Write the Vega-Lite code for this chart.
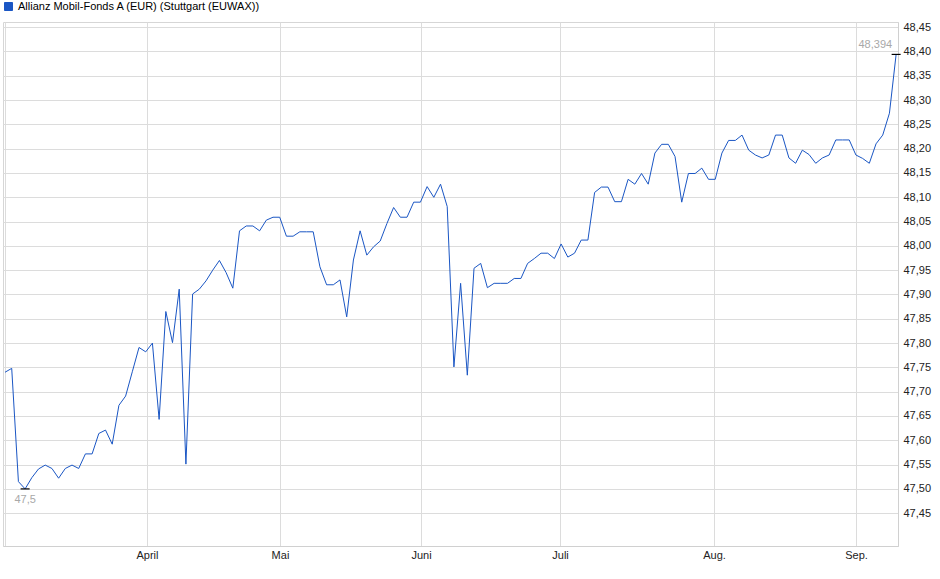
{
  "$schema": "https://vega.github.io/schema/vega-lite/v6.json",
  "autosize": "none",
  "width": 895,
  "height": 524,
  "padding": {"left": 3, "top": 22, "right": 42, "bottom": 33},
  "background": "white",
  "config": {
    "font": "Liberation Sans",
    "view": {"stroke": "#d6d6d6", "strokeWidth": 1},
    "axis": {
      "grid": true,
      "gridColor": "#dcdcdc",
      "gridWidth": 1,
      "domainColor": "#d0d0d0",
      "ticks": false,
      "labelFont": "Liberation Sans",
      "labelFontSize": 11,
      "labelColor": "#222222",
      "title": null
    }
  },
  "datasets": {
    "kurse": [
      {"tag": 0, "kurs": 47.740}, {"tag": 1, "kurs": 47.748}, {"tag": 2, "kurs": 47.515}, {"tag": 3, "kurs": 47.500},
      {"tag": 4, "kurs": 47.523}, {"tag": 5, "kurs": 47.541}, {"tag": 6, "kurs": 47.549}, {"tag": 7, "kurs": 47.542},
      {"tag": 8, "kurs": 47.522}, {"tag": 9, "kurs": 47.542}, {"tag": 10, "kurs": 47.549}, {"tag": 11, "kurs": 47.542},
      {"tag": 12, "kurs": 47.572}, {"tag": 13, "kurs": 47.572}, {"tag": 14, "kurs": 47.614}, {"tag": 15, "kurs": 47.621},
      {"tag": 16, "kurs": 47.592}, {"tag": 17, "kurs": 47.672}, {"tag": 18, "kurs": 47.691}, {"tag": 19, "kurs": 47.741},
      {"tag": 20, "kurs": 47.791}, {"tag": 21, "kurs": 47.782}, {"tag": 22, "kurs": 47.800}, {"tag": 23, "kurs": 47.643},
      {"tag": 24, "kurs": 47.865}, {"tag": 25, "kurs": 47.801}, {"tag": 26, "kurs": 47.911}, {"tag": 27, "kurs": 47.551},
      {"tag": 28, "kurs": 47.901}, {"tag": 29, "kurs": 47.911}, {"tag": 30, "kurs": 47.928}, {"tag": 31, "kurs": 47.950},
      {"tag": 32, "kurs": 47.970}, {"tag": 33, "kurs": 47.945}, {"tag": 34, "kurs": 47.913}, {"tag": 35, "kurs": 48.031},
      {"tag": 36, "kurs": 48.041}, {"tag": 37, "kurs": 48.041}, {"tag": 38, "kurs": 48.031}, {"tag": 39, "kurs": 48.053},
      {"tag": 40, "kurs": 48.059}, {"tag": 41, "kurs": 48.059}, {"tag": 42, "kurs": 48.020}, {"tag": 43, "kurs": 48.020},
      {"tag": 44, "kurs": 48.029}, {"tag": 45, "kurs": 48.029}, {"tag": 46, "kurs": 48.029}, {"tag": 47, "kurs": 47.957},
      {"tag": 48, "kurs": 47.920}, {"tag": 49, "kurs": 47.920}, {"tag": 50, "kurs": 47.930}, {"tag": 51, "kurs": 47.854},
      {"tag": 52, "kurs": 47.971}, {"tag": 53, "kurs": 48.031}, {"tag": 54, "kurs": 47.981}, {"tag": 55, "kurs": 47.998},
      {"tag": 56, "kurs": 48.010}, {"tag": 57, "kurs": 48.046}, {"tag": 58, "kurs": 48.079}, {"tag": 59, "kurs": 48.059},
      {"tag": 60, "kurs": 48.059}, {"tag": 61, "kurs": 48.090}, {"tag": 62, "kurs": 48.090}, {"tag": 63, "kurs": 48.122},
      {"tag": 64, "kurs": 48.100}, {"tag": 65, "kurs": 48.127}, {"tag": 66, "kurs": 48.081}, {"tag": 67, "kurs": 47.751},
      {"tag": 68, "kurs": 47.923}, {"tag": 69, "kurs": 47.734}, {"tag": 70, "kurs": 47.954}, {"tag": 71, "kurs": 47.964},
      {"tag": 72, "kurs": 47.914}, {"tag": 73, "kurs": 47.923}, {"tag": 74, "kurs": 47.923}, {"tag": 75, "kurs": 47.923},
      {"tag": 76, "kurs": 47.933}, {"tag": 77, "kurs": 47.933}, {"tag": 78, "kurs": 47.964}, {"tag": 79, "kurs": 47.974},
      {"tag": 80, "kurs": 47.985}, {"tag": 81, "kurs": 47.985}, {"tag": 82, "kurs": 47.974}, {"tag": 83, "kurs": 48.004},
      {"tag": 84, "kurs": 47.977}, {"tag": 85, "kurs": 47.985}, {"tag": 86, "kurs": 48.012}, {"tag": 87, "kurs": 48.012},
      {"tag": 88, "kurs": 48.110}, {"tag": 89, "kurs": 48.121}, {"tag": 90, "kurs": 48.121}, {"tag": 91, "kurs": 48.091},
      {"tag": 92, "kurs": 48.091}, {"tag": 93, "kurs": 48.137}, {"tag": 94, "kurs": 48.127}, {"tag": 95, "kurs": 48.149},
      {"tag": 96, "kurs": 48.127}, {"tag": 97, "kurs": 48.191}, {"tag": 98, "kurs": 48.209}, {"tag": 99, "kurs": 48.209},
      {"tag": 100, "kurs": 48.184}, {"tag": 101, "kurs": 48.090}, {"tag": 102, "kurs": 48.149}, {"tag": 103, "kurs": 48.149},
      {"tag": 104, "kurs": 48.160}, {"tag": 105, "kurs": 48.137}, {"tag": 106, "kurs": 48.137}, {"tag": 107, "kurs": 48.191},
      {"tag": 108, "kurs": 48.217}, {"tag": 109, "kurs": 48.217}, {"tag": 110, "kurs": 48.228}, {"tag": 111, "kurs": 48.197},
      {"tag": 112, "kurs": 48.187}, {"tag": 113, "kurs": 48.181}, {"tag": 114, "kurs": 48.187}, {"tag": 115, "kurs": 48.228},
      {"tag": 116, "kurs": 48.228}, {"tag": 117, "kurs": 48.181}, {"tag": 118, "kurs": 48.170}, {"tag": 119, "kurs": 48.197},
      {"tag": 120, "kurs": 48.188}, {"tag": 121, "kurs": 48.170}, {"tag": 122, "kurs": 48.181}, {"tag": 123, "kurs": 48.187},
      {"tag": 124, "kurs": 48.218}, {"tag": 125, "kurs": 48.218}, {"tag": 126, "kurs": 48.218}, {"tag": 127, "kurs": 48.187},
      {"tag": 128, "kurs": 48.180}, {"tag": 129, "kurs": 48.170}, {"tag": 130, "kurs": 48.210}, {"tag": 131, "kurs": 48.228},
      {"tag": 132, "kurs": 48.273}, {"tag": 133, "kurs": 48.394}
    ],
    "marken": [
      {"tag": 3, "kurs": 47.5, "text": "47,5", "art": "min"},
      {"tag": 133, "kurs": 48.394, "text": "48,394", "art": "letzter"}
    ]
  },
  "encoding": {
    "x": {
      "field": "tag",
      "type": "quantitative",
      "scale": {"domain": [-0.3, 133.28], "nice": false, "zero": false},
      "axis": {
        "orient": "bottom",
        "values": [0.045, 21.19, 41.04, 62.09, 82.84, 105.82, 127.01],
        "labelExpr": "datum.value < 1 ? '' : datum.value < 30 ? 'April' : datum.value < 50 ? 'Mai' : datum.value < 70 ? 'Juni' : datum.value < 90 ? 'Juli' : datum.value < 115 ? 'Aug.' : 'Sep.'",
        "labelPadding": 3,
        "labelFlush": false,
        "labelOverlap": false
      }
    },
    "y": {
      "field": "kurs",
      "type": "quantitative",
      "scale": {"domain": [47.3825, 48.4607], "nice": false, "zero": false},
      "axis": {
        "orient": "right",
        "values": [47.45, 47.5, 47.55, 47.6, 47.65, 47.7, 47.75, 47.8, 47.85, 47.9, 47.95, 48.0, 48.05, 48.1, 48.15, 48.2, 48.25, 48.3, 48.35, 48.4, 48.45],
        "labelExpr": "replace(format(datum.value, '.2f'), '.', ',')",
        "labelPadding": 5,
        "labelFlush": false,
        "labelOverlap": false
      }
    }
  },
  "layer": [
    {
      "data": {"name": "kurse"},
      "mark": {"type": "line", "strokeWidth": 1, "interpolate": "linear"},
      "encoding": {
        "color": {
          "datum": "Allianz Mobil-Fonds A (EUR) (Stuttgart (EUWAX))",
          "type": "nominal",
          "scale": {"range": ["#1a56c4"]},
          "legend": {
            "title": null,
            "orient": "none",
            "legendX": 0,
            "legendY": -21,
            "padding": 0,
            "symbolType": "square",
            "symbolSize": 64,
            "labelFont": "Liberation Sans",
            "labelFontSize": 11,
            "labelColor": "#000000",
            "labelOffset": 4,
            "labelLimit": 500,
            "encode": {
              "symbols": {"update": {"fill": {"value": "#1a56c4"}, "stroke": {"value": "#0d347f"}, "strokeWidth": {"value": 1}, "shape": {"value": "square"}}}
            }
          }
        }
      }
    },
    {
      "data": {"name": "marken"},
      "mark": {"type": "rule", "color": "#000000", "strokeWidth": 1.2, "xOffset": -4.5, "x2Offset": 4.5},
      "encoding": {
        "x2": {"field": "tag"}
      }
    },
    {
      "data": {"name": "marken"},
      "transform": [{"filter": "datum.art == 'min'"}],
      "mark": {"type": "text", "font": "Liberation Sans", "fontSize": 11, "color": "#a8a8a8", "align": "center", "baseline": "top", "dy": 5},
      "encoding": {"text": {"field": "text"}}
    },
    {
      "data": {"name": "marken"},
      "transform": [{"filter": "datum.art == 'letzter'"}],
      "mark": {"type": "text", "font": "Liberation Sans", "fontSize": 11, "color": "#a8a8a8", "align": "right", "baseline": "bottom", "dx": -4, "dy": -4},
      "encoding": {"text": {"field": "text"}}
    }
  ]
}
